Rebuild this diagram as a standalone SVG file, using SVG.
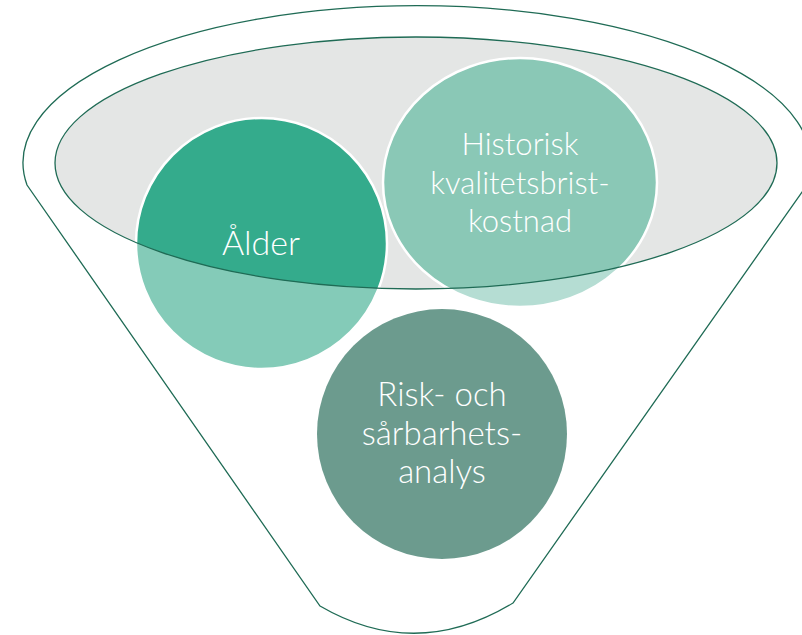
<svg xmlns="http://www.w3.org/2000/svg" width="802" height="635" viewBox="0 0 802 635">
<style>
.outline{fill:none;stroke:#1f6b55;stroke-width:1.3}
.rim{fill:#e4e6e5}
.ring{fill:none;stroke:#ffffff;stroke-width:2.5}
.lbl{font-family:"Lato","Liberation Sans",sans-serif;font-weight:300;fill:#ffffff;text-anchor:middle}
</style>
<defs>
<clipPath id="inner"><ellipse cx="416" cy="163" rx="361" ry="126"/></clipPath>
</defs>
<rect width="802" height="635" fill="#ffffff"/>
<g id="funnel">
<path class="outline" d="M 27,185 A 394,157 0 1 1 807,185 L 513,603 Q 416,662 320,606 Z"/>
<ellipse class="rim" cx="416" cy="163" rx="361" ry="126"/>
</g>
<g id="alder">
<circle cx="261.5" cy="243.5" r="125.5" fill="#84cbb8"/>
<circle cx="261.5" cy="243.5" r="125.5" fill="#34ab8c" clip-path="url(#inner)"/>
<circle class="ring" cx="261.5" cy="243.5" r="125.5"/>
<text class="lbl" x="261" y="255" font-size="34">Ålder</text>
</g>
<g id="historisk">
<ellipse cx="520" cy="182.5" rx="137" ry="124.5" fill="#b5ddd3"/>
<ellipse cx="520" cy="182.5" rx="137" ry="124.5" fill="#8ac8b6" clip-path="url(#inner)"/>
<ellipse class="ring" cx="520" cy="182.5" rx="137" ry="124.5"/>
<text class="lbl" font-size="31"><tspan x="520" y="155">Historisk</tspan><tspan x="520" y="194">kvalitetsbrist-</tspan><tspan x="520" y="232">kostnad</tspan></text>
</g>
<g id="risk">
<circle cx="442" cy="434" r="125" fill="#6c9b8e"/>
<text class="lbl" font-size="33"><tspan x="442" y="406">Risk- och</tspan><tspan x="442" y="445">sårbarhets-</tspan><tspan x="442" y="483">analys</tspan></text>
</g>
<g id="rim-edge">
<ellipse class="outline" cx="416" cy="163" rx="361" ry="126"/>
</g>
</svg>
